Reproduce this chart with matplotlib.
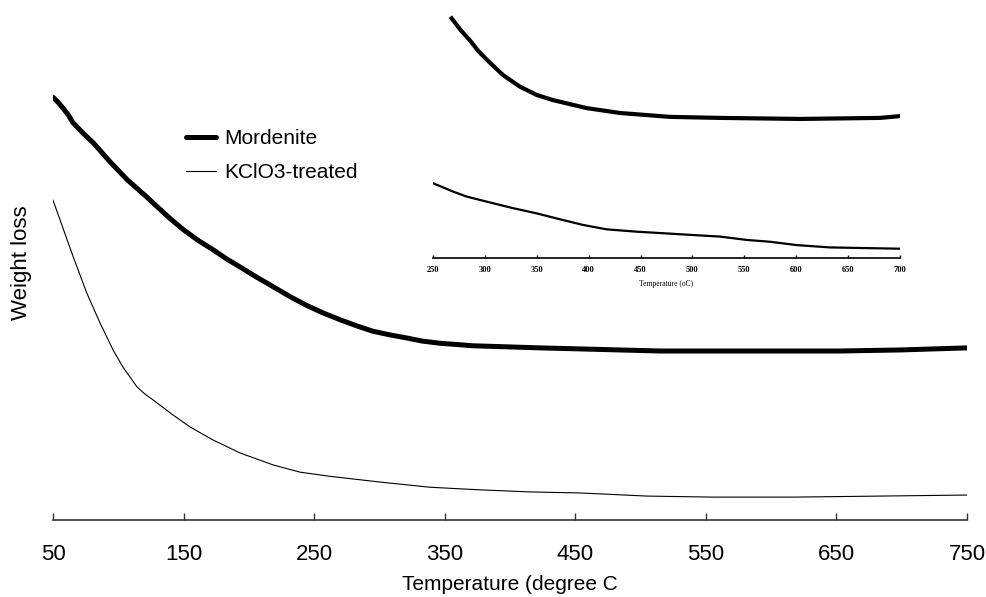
import matplotlib
matplotlib.use("Agg")
import matplotlib.pyplot as plt

# Thermogravimetric weight-loss curves (arbitrary weight units, 0-100)
temp_mordenite = [50, 54, 58, 62, 65, 73, 81, 94, 107, 121, 130, 140, 150, 161,
                  173, 183, 193, 206, 219, 232, 244, 257, 270, 283, 295, 308,
                  321, 333, 346, 372, 398, 423, 454, 484, 515, 561, 607, 653,
                  699, 750]
wt_mordenite = [81.3, 80.3, 79.1, 77.8, 76.5, 74.4, 72.5, 68.8, 65.4, 62.3,
                60.2, 57.9, 55.8, 53.8, 51.9, 50.2, 48.7, 46.7, 44.8, 42.9,
                41.3, 39.8, 38.5, 37.3, 36.3, 35.6, 35.0, 34.4, 34.0, 33.5,
                33.3, 33.1, 32.9, 32.7, 32.5, 32.5, 32.5, 32.5, 32.7, 33.1]

temp_kclo3 = [50, 65.5, 75.8, 86.0, 96.0, 103.6, 114.3, 120.5, 126.6, 141.9,
              154.9, 172.5, 193.2, 218.5, 239.2, 262.1, 300.4, 338.7, 377.0,
              415.3, 453.6, 504.9, 555.5, 616.7, 683.3, 750]
wt_kclo3 = [61.5, 50.6, 43.7, 37.9, 32.7, 29.4, 25.6, 24.2, 23.1, 20.2,
            17.9, 15.4, 12.9, 10.6, 9.2, 8.4, 7.3, 6.3, 5.8,
            5.4, 5.2, 4.6, 4.4, 4.4, 4.6, 4.8]

# Inset: magnified high-temperature region
inset_temp_mordenite = [268.0, 276.5, 285.7, 293.5, 301.7, 317.5, 333.8, 349.9,
                        365.6, 398.1, 430.2, 478.4, 526.6, 603.6, 680.7, 700]
inset_wt_mordenite = [92.9, 88.4, 84.3, 80.3, 76.9, 70.9, 66.4, 63.2,
                      61.2, 58.1, 56.2, 54.7, 54.3, 53.9, 54.3, 55.0]

inset_temp_kclo3 = [250, 269.6, 282.5, 308.1, 327.4, 349.9, 372.4, 394.8, 417.4,
                    446.3, 471.9, 500.8, 526.6, 552.3, 574.7, 600.5, 632.6, 700]
inset_wt_kclo3 = [29.0, 25.7, 23.8, 21.2, 19.3, 17.3, 15.0, 12.8, 11.1,
                  10.2, 9.6, 8.9, 8.3, 7.0, 6.3, 5.0, 4.1, 3.6]

main_ticks = [50, 150, 250, 350, 450, 550, 650, 750]
inset_ticks = [250, 300, 350, 400, 450, 500, 550, 600, 650, 700]

sans = "Liberation Sans"
serif = "Liberation Serif"

W, H = 987, 597
fig = plt.figure(figsize=(W / 100, H / 100), dpi=100)

def box(x0, y0, x1, y1):
    return [x0 / W, 1 - y1 / H, (x1 - x0) / W, (y1 - y0) / H]

ax = fig.add_axes(box(53, 0, 967, 520))
ax.plot(temp_mordenite, wt_mordenite, color="black", lw=3.6,
        solid_capstyle="round", solid_joinstyle="round", label="Mordenite")
ax.plot(temp_kclo3, wt_kclo3, color="black", lw=0.8, label="KClO3-treated")
ax.set_xlim(50, 750)
ax.set_ylim(0, 100)
for s in ("left", "right", "top"):
    ax.spines[s].set_visible(False)
ax.spines["bottom"].set_color("#333333")
ax.spines["bottom"].set_linewidth(1.2)
ax.set_yticks([])
ax.set_xticks(main_ticks)
ax.tick_params(axis="x", direction="in", length=5, width=1.0, color="#333333",
               pad=17, labelsize=16)
for t in ax.get_xticklabels():
    t.set_fontfamily(sans)
ax.patch.set_alpha(0)

fig.text(510 / W, 1 - 585 / H, "Temperature (degree C", ha="center", va="center",
         fontsize=15, family=sans)
fig.text(22 / W, 1 - 263 / H, "Weight loss", ha="center", va="center",
         rotation=90, fontsize=16, family=sans)

leg = ax.legend(loc="upper left", bbox_to_anchor=(186 / W, 1 - 129 / H),
                bbox_transform=fig.transFigure, frameon=False,
                prop={"family": sans, "size": 15}, handlelength=1.45,
                handletextpad=0.38, labelspacing=0.72, borderaxespad=0,
                borderpad=0)

ins = fig.add_axes(box(433, 0, 900, 258))
ins.plot(inset_temp_mordenite, inset_wt_mordenite, color="black", lw=3.0,
         solid_joinstyle="round")
ins.plot(inset_temp_kclo3, inset_wt_kclo3, color="black", lw=1.6)
ins.set_xlim(250, 700)
ins.set_ylim(0, 100)
for s in ("left", "right", "top"):
    ins.spines[s].set_visible(False)
ins.spines["bottom"].set_linewidth(1.2)
ins.set_yticks([])
ins.set_xticks(inset_ticks)
ins.tick_params(axis="x", direction="in", length=2.5, width=1.0, pad=6, labelsize=6)
for t in ins.get_xticklabels():
    t.set_fontfamily(serif)
    t.set_fontweight("bold")
ins.patch.set_alpha(0)
fig.text(666 / W, 1 - 284 / H, "Temperature (oC)", ha="center", va="center",
         fontsize=5.5, family=serif)

fig.savefig("out.png", dpi=100)
